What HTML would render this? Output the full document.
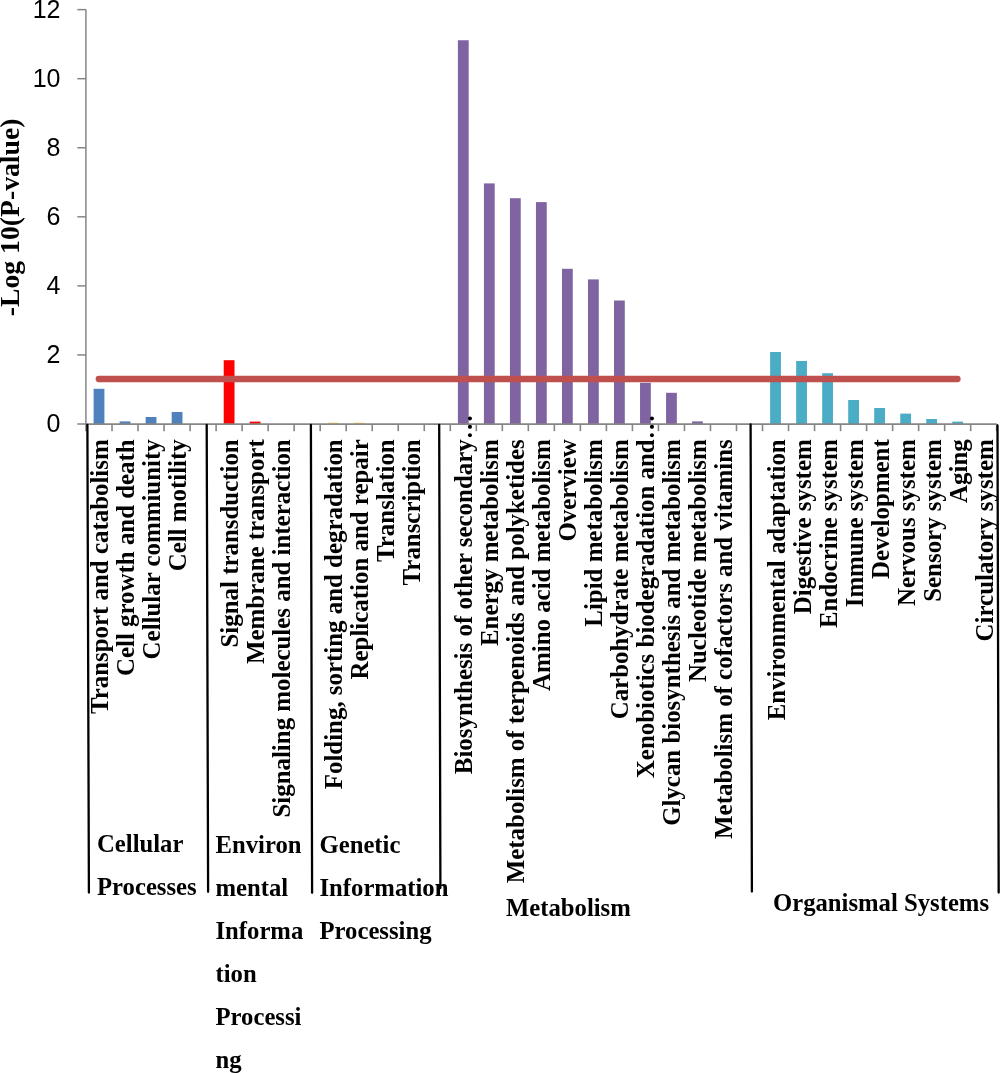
<!DOCTYPE html>
<html><head><meta charset="utf-8"><style>
html,body{margin:0;padding:0;background:#fff;}
body{width:1000px;height:1073px;overflow:hidden;font-family:"Liberation Sans",sans-serif;}
svg{display:block;will-change:transform;}
</style></head><body>
<svg width="1000" height="1073" viewBox="0 0 1000 1073">
<rect width="1000" height="1073" fill="#fff"/>
<rect x="93.61" y="388.80" width="10.8" height="35.20" fill="#4F81BD"/>
<rect x="119.63" y="421.40" width="10.8" height="2.60" fill="#4F81BD"/>
<rect x="145.65" y="417.00" width="10.8" height="7.00" fill="#4F81BD"/>
<rect x="171.67" y="412.00" width="10.8" height="12.00" fill="#4F81BD"/>
<rect x="223.71" y="360.20" width="10.8" height="63.80" fill="#FF0000"/>
<rect x="249.73" y="421.60" width="10.8" height="2.40" fill="#FF0000"/>
<rect x="327.79" y="422.60" width="10.8" height="1.40" fill="#FFD966"/>
<rect x="353.81" y="422.60" width="10.8" height="1.40" fill="#FFD966"/>
<rect x="457.89" y="40.25" width="10.8" height="383.75" fill="#8064A2"/>
<rect x="483.91" y="183.40" width="10.8" height="240.60" fill="#8064A2"/>
<rect x="509.93" y="198.20" width="10.8" height="225.80" fill="#8064A2"/>
<rect x="535.95" y="202.10" width="10.8" height="221.90" fill="#8064A2"/>
<rect x="561.97" y="268.80" width="10.8" height="155.20" fill="#8064A2"/>
<rect x="587.99" y="279.40" width="10.8" height="144.60" fill="#8064A2"/>
<rect x="614.01" y="300.50" width="10.8" height="123.50" fill="#8064A2"/>
<rect x="640.03" y="382.80" width="10.8" height="41.20" fill="#8064A2"/>
<rect x="666.05" y="392.80" width="10.8" height="31.20" fill="#8064A2"/>
<rect x="692.07" y="421.40" width="10.8" height="2.60" fill="#8064A2"/>
<rect x="770.13" y="352.00" width="10.8" height="72.00" fill="#4BACC6"/>
<rect x="796.15" y="361.00" width="10.8" height="63.00" fill="#4BACC6"/>
<rect x="822.17" y="373.20" width="10.8" height="50.80" fill="#4BACC6"/>
<rect x="848.19" y="400.00" width="10.8" height="24.00" fill="#4BACC6"/>
<rect x="874.21" y="408.00" width="10.8" height="16.00" fill="#4BACC6"/>
<rect x="900.23" y="413.60" width="10.8" height="10.40" fill="#4BACC6"/>
<rect x="926.25" y="419.00" width="10.8" height="5.00" fill="#4BACC6"/>
<rect x="952.27" y="421.60" width="10.8" height="2.40" fill="#4BACC6"/>
<line x1="98.8" y1="379.0" x2="957.5" y2="379.0" stroke="#C0504D" stroke-width="6.3" stroke-linecap="round"/>
<line x1="85.9" y1="9.6" x2="85.9" y2="424.9" stroke="#868686" stroke-width="1.5"/>
<line x1="77.3" y1="424.00" x2="86" y2="424.00" stroke="#868686" stroke-width="1.5"/>
<line x1="77.3" y1="354.94" x2="86" y2="354.94" stroke="#868686" stroke-width="1.5"/>
<line x1="77.3" y1="285.88" x2="86" y2="285.88" stroke="#868686" stroke-width="1.5"/>
<line x1="77.3" y1="216.82" x2="86" y2="216.82" stroke="#868686" stroke-width="1.5"/>
<line x1="77.3" y1="147.76" x2="86" y2="147.76" stroke="#868686" stroke-width="1.5"/>
<line x1="77.3" y1="78.70" x2="86" y2="78.70" stroke="#868686" stroke-width="1.5"/>
<line x1="77.3" y1="9.64" x2="86" y2="9.64" stroke="#868686" stroke-width="1.5"/>
<line x1="85.2" y1="424.0" x2="996.8" y2="424.0" stroke="#868686" stroke-width="1.75"/>
<line x1="86.00" y1="424.0" x2="86.00" y2="431.2" stroke="#868686" stroke-width="1.6"/>
<line x1="112.02" y1="424.0" x2="112.02" y2="431.2" stroke="#868686" stroke-width="1.6"/>
<line x1="138.04" y1="424.0" x2="138.04" y2="431.2" stroke="#868686" stroke-width="1.6"/>
<line x1="164.06" y1="424.0" x2="164.06" y2="431.2" stroke="#868686" stroke-width="1.6"/>
<line x1="190.08" y1="424.0" x2="190.08" y2="431.2" stroke="#868686" stroke-width="1.6"/>
<line x1="216.10" y1="424.0" x2="216.10" y2="431.2" stroke="#868686" stroke-width="1.6"/>
<line x1="242.12" y1="424.0" x2="242.12" y2="431.2" stroke="#868686" stroke-width="1.6"/>
<line x1="268.14" y1="424.0" x2="268.14" y2="431.2" stroke="#868686" stroke-width="1.6"/>
<line x1="294.16" y1="424.0" x2="294.16" y2="431.2" stroke="#868686" stroke-width="1.6"/>
<line x1="320.18" y1="424.0" x2="320.18" y2="431.2" stroke="#868686" stroke-width="1.6"/>
<line x1="346.20" y1="424.0" x2="346.20" y2="431.2" stroke="#868686" stroke-width="1.6"/>
<line x1="372.22" y1="424.0" x2="372.22" y2="431.2" stroke="#868686" stroke-width="1.6"/>
<line x1="398.24" y1="424.0" x2="398.24" y2="431.2" stroke="#868686" stroke-width="1.6"/>
<line x1="424.26" y1="424.0" x2="424.26" y2="431.2" stroke="#868686" stroke-width="1.6"/>
<line x1="450.28" y1="424.0" x2="450.28" y2="431.2" stroke="#868686" stroke-width="1.6"/>
<line x1="476.30" y1="424.0" x2="476.30" y2="431.2" stroke="#868686" stroke-width="1.6"/>
<line x1="502.32" y1="424.0" x2="502.32" y2="431.2" stroke="#868686" stroke-width="1.6"/>
<line x1="528.34" y1="424.0" x2="528.34" y2="431.2" stroke="#868686" stroke-width="1.6"/>
<line x1="554.36" y1="424.0" x2="554.36" y2="431.2" stroke="#868686" stroke-width="1.6"/>
<line x1="580.38" y1="424.0" x2="580.38" y2="431.2" stroke="#868686" stroke-width="1.6"/>
<line x1="606.40" y1="424.0" x2="606.40" y2="431.2" stroke="#868686" stroke-width="1.6"/>
<line x1="632.42" y1="424.0" x2="632.42" y2="431.2" stroke="#868686" stroke-width="1.6"/>
<line x1="658.44" y1="424.0" x2="658.44" y2="431.2" stroke="#868686" stroke-width="1.6"/>
<line x1="684.46" y1="424.0" x2="684.46" y2="431.2" stroke="#868686" stroke-width="1.6"/>
<line x1="710.48" y1="424.0" x2="710.48" y2="431.2" stroke="#868686" stroke-width="1.6"/>
<line x1="736.50" y1="424.0" x2="736.50" y2="431.2" stroke="#868686" stroke-width="1.6"/>
<line x1="762.52" y1="424.0" x2="762.52" y2="431.2" stroke="#868686" stroke-width="1.6"/>
<line x1="788.54" y1="424.0" x2="788.54" y2="431.2" stroke="#868686" stroke-width="1.6"/>
<line x1="814.56" y1="424.0" x2="814.56" y2="431.2" stroke="#868686" stroke-width="1.6"/>
<line x1="840.58" y1="424.0" x2="840.58" y2="431.2" stroke="#868686" stroke-width="1.6"/>
<line x1="866.60" y1="424.0" x2="866.60" y2="431.2" stroke="#868686" stroke-width="1.6"/>
<line x1="892.62" y1="424.0" x2="892.62" y2="431.2" stroke="#868686" stroke-width="1.6"/>
<line x1="918.64" y1="424.0" x2="918.64" y2="431.2" stroke="#868686" stroke-width="1.6"/>
<line x1="944.66" y1="424.0" x2="944.66" y2="431.2" stroke="#868686" stroke-width="1.6"/>
<line x1="970.68" y1="424.0" x2="970.68" y2="431.2" stroke="#868686" stroke-width="1.6"/>
<line x1="996.70" y1="424.0" x2="996.70" y2="431.2" stroke="#868686" stroke-width="1.6"/>
<line x1="87.4" y1="425" x2="88.9" y2="892.6" stroke="#000" stroke-width="2.3" stroke-linecap="round"/>
<line x1="206.7" y1="425" x2="208.1" y2="891.8" stroke="#000" stroke-width="2.3" stroke-linecap="round"/>
<line x1="310.9" y1="425" x2="312.1" y2="892.8" stroke="#000" stroke-width="2.3" stroke-linecap="round"/>
<line x1="439.2" y1="425" x2="440.4" y2="888" stroke="#000" stroke-width="2.3" stroke-linecap="round"/>
<line x1="750.6" y1="424.5" x2="751.9" y2="891.5" stroke="#000" stroke-width="2.3" stroke-linecap="round"/>
<line x1="997.5" y1="425.5" x2="998.7" y2="892.5" stroke="#000" stroke-width="2.3" stroke-linecap="round"/>
<g font-family="Liberation Sans" font-size="25" fill="#000"><text x="60.5" y="432.40" text-anchor="end">0</text><text x="60.5" y="363.34" text-anchor="end">2</text><text x="60.5" y="294.28" text-anchor="end">4</text><text x="60.5" y="225.22" text-anchor="end">6</text><text x="60.5" y="156.16" text-anchor="end">8</text><text x="60.5" y="87.10" text-anchor="end">10</text><text x="60.5" y="18.04" text-anchor="end">12</text></g>
<g font-family="Liberation Serif" font-weight="bold" font-size="24.9" fill="#000"><text transform="translate(108.01,439.3) rotate(-90)" text-anchor="end">Transport and catabolism</text><text transform="translate(134.03,439.3) rotate(-90)" text-anchor="end">Cell growth and death</text><text transform="translate(160.05,439.3) rotate(-90)" text-anchor="end">Cellular commiunity</text><text transform="translate(186.07,439.3) rotate(-90)" text-anchor="end">Cell motility</text><text transform="translate(238.11,439.3) rotate(-90)" text-anchor="end">Signal transduction</text><text transform="translate(264.13,439.3) rotate(-90)" text-anchor="end">Membrane transport</text><text transform="translate(290.15,439.3) rotate(-90)" text-anchor="end">Signaling molecules and interaction</text><text transform="translate(342.19,439.3) rotate(-90)" text-anchor="end">Folding, sorting and degradation</text><text transform="translate(368.21,439.3) rotate(-90)" text-anchor="end">Replication and repair</text><text transform="translate(394.23,439.3) rotate(-90)" text-anchor="end">Translation</text><text transform="translate(420.25,439.3) rotate(-90)" text-anchor="end">Transcription</text><text transform="translate(472.29,439.3) rotate(-90)" text-anchor="end">Biosynthesis of other secondary</text><text transform="translate(472.29,439.3) rotate(-90)" text-anchor="start">…</text><text transform="translate(498.31,439.3) rotate(-90)" text-anchor="end">Energy metabolism</text><text transform="translate(524.33,439.3) rotate(-90)" text-anchor="end">Metabolism of terpenoids and polyketides</text><text transform="translate(550.35,439.3) rotate(-90)" text-anchor="end">Amino acid metabolism</text><text transform="translate(576.37,439.3) rotate(-90)" text-anchor="end">Overview</text><text transform="translate(602.39,439.3) rotate(-90)" text-anchor="end">Lipid metabolism</text><text transform="translate(628.41,439.3) rotate(-90)" text-anchor="end">Carbohydrate metabolism</text><text transform="translate(654.43,439.3) rotate(-90)" text-anchor="end">Xenobiotics biodegradation and</text><text transform="translate(654.43,439.3) rotate(-90)" text-anchor="start">…</text><text transform="translate(680.45,439.3) rotate(-90)" text-anchor="end">Glycan biosynthesis and metabolism</text><text transform="translate(706.47,439.3) rotate(-90)" text-anchor="end">Nucleotide metabolism</text><text transform="translate(732.49,439.3) rotate(-90)" text-anchor="end">Metabolism of cofactors and vitamins</text><text transform="translate(784.53,439.3) rotate(-90)" text-anchor="end">Environmental adaptation</text><text transform="translate(810.55,439.3) rotate(-90)" text-anchor="end">Digestive system</text><text transform="translate(836.57,439.3) rotate(-90)" text-anchor="end">Endocrine system</text><text transform="translate(862.59,439.3) rotate(-90)" text-anchor="end">Immune system</text><text transform="translate(888.61,439.3) rotate(-90)" text-anchor="end">Development</text><text transform="translate(914.63,439.3) rotate(-90)" text-anchor="end">Nervous system</text><text transform="translate(940.65,439.3) rotate(-90)" text-anchor="end">Sensory system</text><text transform="translate(966.67,439.3) rotate(-90)" text-anchor="end">Aging</text><text transform="translate(992.69,439.3) rotate(-90)" text-anchor="end">Circulatory system</text></g>
<text transform="translate(18.7,316.2) rotate(-90)" font-family="Liberation Serif" font-weight="bold" font-size="27.7" fill="#000">-Log 10(P-value)</text>
<g font-family="Liberation Serif" font-weight="bold" font-size="24.7" fill="#000"><text x="97" y="852.3">Cellular</text><text x="97" y="895.2">Processes</text><text x="215.5" y="853.0">Environ</text><text x="215.5" y="895.9">mental</text><text x="215.5" y="938.8">Informa</text><text x="215.5" y="981.7">tion</text><text x="215.5" y="1024.6">Processi</text><text x="215.5" y="1067.5">ng</text><text x="319.5" y="853.0">Genetic</text><text x="319.5" y="895.9">Information</text><text x="319.5" y="938.8">Processing</text><text x="506" y="916">Metabolism</text><text x="773" y="910.7">Organismal Systems</text></g>
</svg>
</body></html>
